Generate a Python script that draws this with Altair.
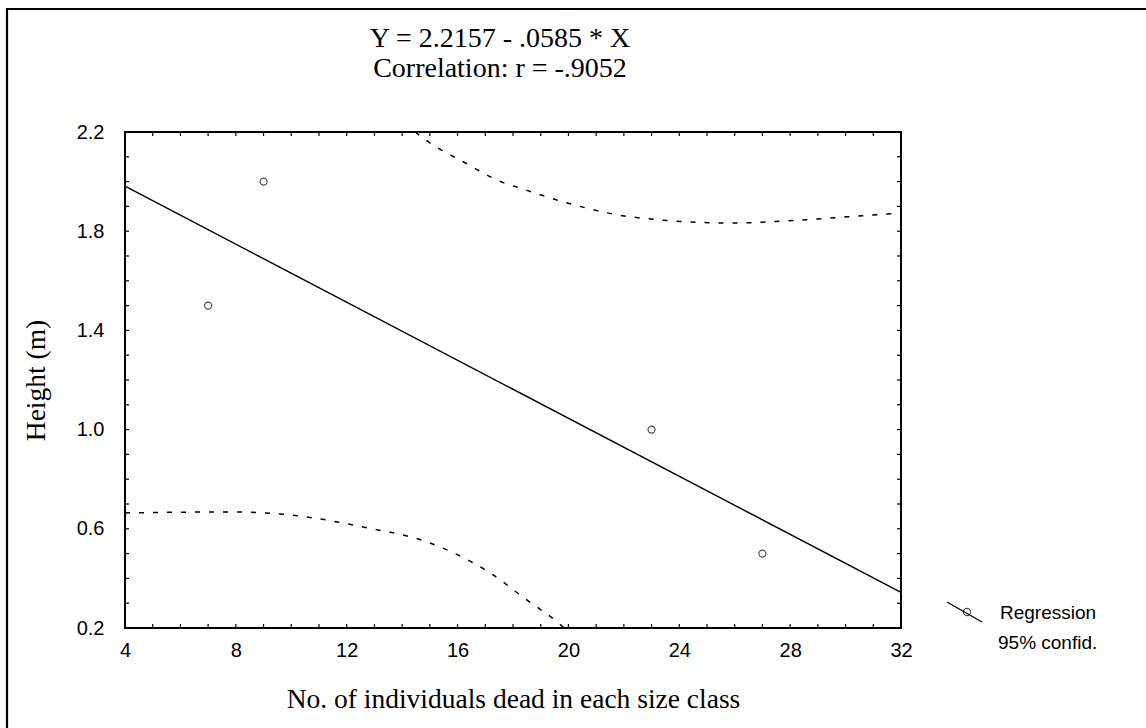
import altair as alt
import pandas as pd

# ---- data ----
pts_x = [7, 9, 23, 27]
pts_y = [1.5, 2.0, 1.0, 0.5]

reg_x = [4, 32]
reg_y = [1.9817, 0.3437]

up_x = [14.47, 15.0, 16.2, 17.6, 18.25, 19.95, 22.3, 25.9, 28.4, 31.5, 32.0]
up_y = [2.2, 2.156, 2.08, 1.998, 1.974, 1.914, 1.857, 1.833, 1.845, 1.869, 1.872]

lo_x = [4.0, 7.8, 9.95, 12.6, 15.0, 17.2, 18.5, 19.6, 19.85]
lo_y = [0.664, 0.668, 0.656, 0.607, 0.543, 0.42, 0.313, 0.224, 0.2]

x_minor = [4, 5, 6, 7, 8, 9, 10, 11, 12, 13, 14, 15, 16, 17, 18, 19, 20,
           21, 22, 23, 24, 25, 26, 27, 28, 29, 30, 31, 32]
y_minor = [0.2, 0.3, 0.4, 0.5, 0.6, 0.7, 0.8, 0.9, 1.0, 1.1, 1.2, 1.3, 1.4,
           1.5, 1.6, 1.7, 1.8, 1.9, 2.0, 2.1, 2.2]
x_labels = [4, 8, 12, 16, 20, 24, 28, 32]
y_labels = [0.2, 0.6, 1.0, 1.4, 1.8, 2.2]

title_lines = ["Y = 2.2157 - .0585 * X", "Correlation: r = -.9052"]
x_title = "No. of individuals dead in each size class"
y_title = "Height (m)"
legend_items = ["Regression", "95% confid."]

W, H = 776, 496
SERIF = "Liberation Serif"
SANS = "Liberation Sans"

xs = alt.Scale(domain=[4, 32], nice=False, zero=False)
ys = alt.Scale(domain=[0.2, 2.2], nice=False, zero=False)

x_axis = alt.Axis(
    values=x_labels, title=x_title, grid=False, domain=False, ticks=False,
    labelPadding=12, labelFont=SANS, labelFontSize=20,
    labelColor="black", labelFlush=False, titleFont=SERIF,
    titleFontSize=27.5, titleFontWeight="normal", titleColor="black",
    titlePadding=25)
y_axis = alt.Axis(
    values=y_labels, format=".1f", title=y_title, grid=False, domain=False,
    ticks=False, labelPadding=21, labelFont=SANS,
    labelFontSize=20, labelColor="black", labelFlush=False,
    titleFont=SERIF, titleFontSize=27.5, titleFontWeight="normal",
    titleColor="black", titlePadding=26)


def xq():
    return alt.X("x:Q", scale=xs, axis=x_axis)


def yq():
    return alt.Y("y:Q", scale=ys, axis=y_axis)


pts = pd.DataFrame({"x": pts_x, "y": pts_y})
reg = pd.DataFrame({"x": reg_x, "y": reg_y})
up = pd.DataFrame({"x": up_x, "y": up_y})
lo = pd.DataFrame({"x": lo_x, "y": lo_y})
xt = pd.DataFrame({"x": x_minor})
yt = pd.DataFrame({"y": y_minor})

points = alt.Chart(pts).mark_point(
    shape="circle", filled=False, color="black", size=50, strokeWidth=1.2
).encode(x=xq(), y=yq())

reg_line = alt.Chart(reg).mark_line(color="black", strokeWidth=1.4).encode(
    x=xq(), y=yq())
up_line = alt.Chart(up).mark_line(
    color="black", strokeWidth=1.5, strokeDash=[5, 9], interpolate="monotone",
    clip=True).encode(x=xq(), y=yq())
lo_line = alt.Chart(lo).mark_line(
    color="black", strokeWidth=1.5, strokeDash=[5, 9], interpolate="monotone",
    clip=True).encode(x=xq(), y=yq())

tb = alt.Chart(xt).mark_rule(color="black", strokeWidth=1.2).encode(
    x=xq(), y=alt.value(H), y2=alt.value(H - 4))
tt = alt.Chart(xt).mark_rule(color="black", strokeWidth=1.2).encode(
    x=xq(), y=alt.value(0), y2=alt.value(4))
tl = alt.Chart(yt).mark_rule(color="black", strokeWidth=1.2).encode(
    y=yq(), x=alt.value(0), x2=alt.value(4))
tr = alt.Chart(yt).mark_rule(color="black", strokeWidth=1.2).encode(
    y=yq(), x=alt.value(W), x2=alt.value(W - 4))

t1 = alt.Chart(pd.DataFrame({"s": [title_lines[0]]})).mark_text(
    font=SERIF, fontSize=28, color="black", align="center",
    baseline="alphabetic").encode(text="s:N", x=alt.value(375), y=alt.value(-85))
t2 = alt.Chart(pd.DataFrame({"s": [title_lines[1]]})).mark_text(
    font=SERIF, fontSize=28, color="black", align="center",
    baseline="alphabetic").encode(text="s:N", x=alt.value(375), y=alt.value(-55))

l1 = alt.Chart(pd.DataFrame({"s": [legend_items[0]]})).mark_text(
    font=SANS, fontSize=19, color="black", align="left",
    baseline="alphabetic").encode(text="s:N", x=alt.value(875), y=alt.value(487))
l2 = alt.Chart(pd.DataFrame({"s": [legend_items[1]]})).mark_text(
    font=SANS, fontSize=19, color="black", align="left",
    baseline="alphabetic").encode(text="s:N", x=alt.value(873), y=alt.value(517))
lsym_line = alt.Chart(pd.DataFrame({"s": [legend_items[0]]})).mark_rule(
    color="black", strokeWidth=1.3).encode(
    x=alt.value(822), x2=alt.value(857), y=alt.value(470), y2=alt.value(490))
lsym_pt = alt.Chart(pd.DataFrame({"s": [legend_items[0]]})).mark_point(
    shape="circle", filled=False, color="black", size=50, strokeWidth=1.2
).encode(x=alt.value(842), y=alt.value(480))

frame_l = alt.Chart(pd.DataFrame({"s": ["frame"]})).mark_rule(
    color="black", strokeWidth=2.2).encode(
    x=alt.value(-118), y=alt.value(-123), y2=alt.value(600))
frame_t = alt.Chart(pd.DataFrame({"s": ["frame"]})).mark_rule(
    color="black", strokeWidth=2.2).encode(
    y=alt.value(-123), x=alt.value(-119), x2=alt.value(1025))

chart = alt.layer(
    points, reg_line, up_line, lo_line, tb, tt, tl, tr, t1, t2,
    l1, l2, lsym_line, lsym_pt, frame_l, frame_t
).properties(
    width=W, height=H,
    background="white",
    autosize=alt.AutoSizeParams(type="none"),
    padding={"left": 125, "top": 132, "right": 245, "bottom": 100},
).configure_view(
    stroke="black", strokeWidth=2
)

chart.save("out.html", embed_options={"renderer": "svg", "actions": False})
